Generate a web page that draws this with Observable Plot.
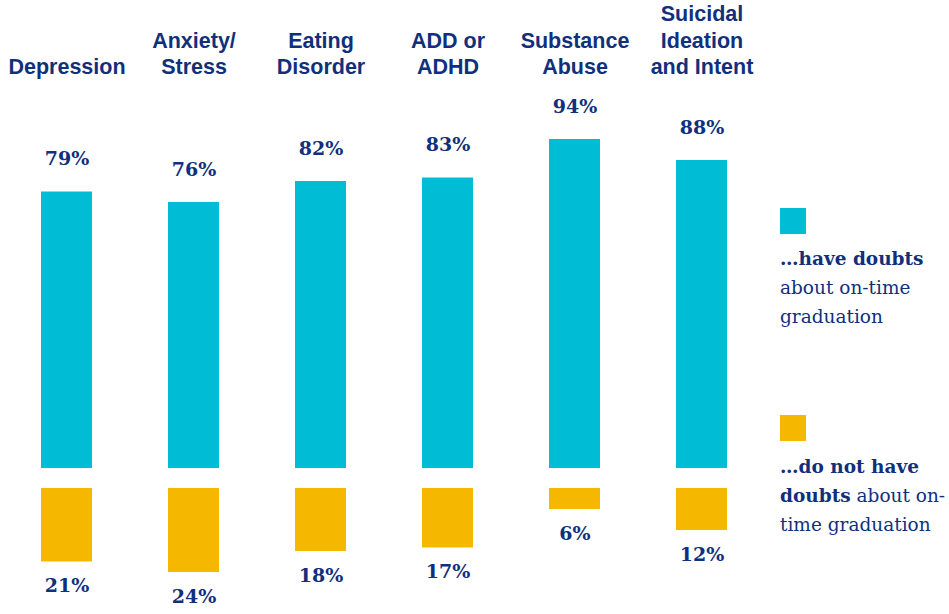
<!DOCTYPE html>
<html>
<head>
<meta charset="utf-8">
<script src="https://cdn.jsdelivr.net/npm/d3@7"></script>
<script src="https://cdn.jsdelivr.net/npm/@observablehq/plot@0.6"></script>
<style>
  html, body { margin: 0; padding: 0; background: #fff; }
  #wrap { position: relative; width: 949px; height: 614px; overflow: hidden; }
  .leg { position: absolute; left: 780px; font-family: "DejaVu Serif", Georgia, serif; font-size: 18.5px; line-height: 29px; color: #10307c; white-space: nowrap; }
  .sw { position: absolute; left: 780px; width: 26px; height: 26px; }
</style>
</head>
<body>
<div id="wrap">
  <div id="chart"></div>
  <div class="sw" style="top:208px;background:#00bdd6"></div>
  <div class="leg" style="top:244px"><b>…have doubts</b><br>about on-time<br>graduation</div>
  <div class="sw" style="top:415px;background:#f5b700"></div>
  <div class="leg" style="top:452px"><b>…do not have</b><br><b>doubts</b> about on-<br>time graduation</div>
</div>
<script>
const categories = ["Depression", "Anxiety/\nStress", "Eating\nDisorder", "ADD or\nADHD", "Substance\nAbuse", "Suicidal\nIdeation\nand Intent"];
const haveDoubts = [79, 76, 82, 83, 94, 88];
const noDoubts = [21, 24, 18, 17, 6, 12];

const rows = categories.map((c, i) => ({cat: c, have: haveDoubts[i], no: noDoubts[i]}));
const GAP = 5.7;
const navy = "#10307c";
const teal = "#00bdd6";
const gold = "#f5b700";

const chart = Plot.plot({
  width: 949,
  height: 614,
  marginTop: 83,
  marginBottom: 0,
  marginLeft: 0,
  marginRight: 0,
  x: {type: "band", domain: categories, range: [1.8, 766.2], paddingInner: 0.6, paddingOuter: 0.3, axis: null},
  y: {domain: [-41.71, 110], range: [614, 83], axis: null},
  marks: [
    Plot.rectY(rows, {x: "cat", y1: 0, y2: "have", fill: teal}),
    Plot.rectY(rows, {x: "cat", y1: -GAP, y2: d => -GAP - d.no, fill: gold}),
    Plot.text(rows, {x: "cat", y: "have", text: d => d.have + "%", dy: -33, fill: navy, fontSize: 19, fontWeight: "bold", fontFamily: "'DejaVu Serif', Georgia, serif"}),
    Plot.text(rows, {x: "cat", y: d => -GAP - d.no, text: d => d.no + "%", dy: 24, fill: navy, fontSize: 19, fontWeight: "bold", fontFamily: "'DejaVu Serif', Georgia, serif"}),
    Plot.text(rows, {x: "cat", frameAnchor: "top", text: "cat", lineAnchor: "bottom", lineHeight: 1.21, dy: -10, fill: navy, fontSize: 21.5, fontWeight: "bold", fontFamily: "'Liberation Sans', Arial, sans-serif"})
  ]
});
document.getElementById("chart").appendChild(chart);
</script>
</body>
</html>
